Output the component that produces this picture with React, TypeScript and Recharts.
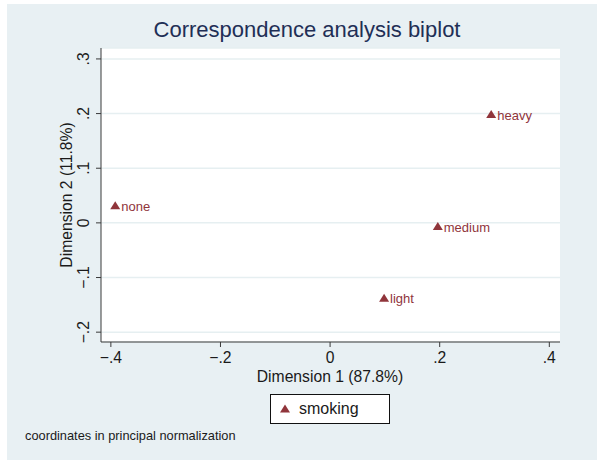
import React from "react";
import {
  CartesianGrid,
  Legend,
  Scatter,
  ScatterChart,
  XAxis,
  YAxis,
} from "recharts";

// smoking categories, principal normalization
const categories = ["none", "light", "medium", "heavy"];
const dim1 = [-0.392, 0.0985, 0.1965, 0.294];
const dim2 = [0.031, -0.138, -0.007, 0.198];

const xTicks = [-0.4, -0.2, 0, 0.2, 0.4];
const xTickLabels = ["\u2212.4", "\u2212.2", "0", ".2", ".4"];
const yTicks = [-0.2, -0.1, 0, 0.1, 0.2, 0.3];
const yTickLabels = ["\u2212.2", "\u2212.1", "0", ".1", ".2", ".3"];

const points = categories.map((name, i) => ({ name, x: dim1[i], y: dim2[i] }));

const FONT = '"Liberation Sans", Arial, Helvetica, sans-serif';
const MAROON = "#90353b";
const AXIS = "#3a3a3a";
const TEXT = "#1a1a1a";

function labelFor(value: number, ticks: number[], labels: string[]) {
  const i = ticks.findIndex((t) => Math.abs(t - value) < 1e-9);
  return i >= 0 ? labels[i] : String(value);
}

function TriangleMarker(props: any) {
  const { cx, cy, payload } = props;
  if (cx == null || cy == null) return null;
  return (
    <g>
      <polygon
        points={`${cx},${cy - 4.6} ${cx - 5},${cy + 3.4} ${cx + 5},${cy + 3.4}`}
        fill={MAROON}
      />
      <text x={cx + 6} y={cy + 5} fontSize={13} fill={MAROON} fontFamily={FONT}>
        {payload.name}
      </text>
    </g>
  );
}

function YTick(props: any) {
  const { x, y, payload } = props;
  return (
    <text
      x={x}
      y={y}
      transform={`rotate(-90 ${x} ${y})`}
      textAnchor="middle"
      fontSize={15.7}
      fill={TEXT}
      fontFamily={FONT}
    >
      {labelFor(payload.value, yTicks, yTickLabels)}
    </text>
  );
}

function LegendBox(props: any) {
  const item = props.payload?.[0];
  return (
    <div
      style={{
        width: 120,
        height: 30,
        border: "1px solid #111",
        background: "#fff",
        display: "flex",
        alignItems: "center",
        fontFamily: FONT,
        fontSize: 16,
        color: TEXT,
        boxSizing: "border-box",
      }}
    >
      <svg width={28} height={20}>
        <polygon points="14,5.4 9,13.4 19,13.4" fill={MAROON} />
      </svg>
      <span>{item?.value ?? "smoking"}</span>
    </div>
  );
}

export default function App() {
  return (
    <div
      style={{
        position: "absolute",
        left: 0,
        top: 0,
        width: 597,
        height: 462,
        background: "#fff",
        overflow: "hidden",
      }}
    >
      <div
        style={{
          position: "absolute",
          left: 7,
          top: 4,
          width: 590,
          height: 456,
          background: "#e8f0f3",
        }}
      />
      <div
        style={{
          position: "absolute",
          left: 0,
          width: 614,
          top: 17,
          textAlign: "center",
          fontFamily: FONT,
          fontSize: 22,
          color: "#1f2f56",
          lineHeight: "26px",
        }}
      >
        Correspondence analysis biplot
      </div>
      <div
        style={{
          position: "absolute",
          left: 25,
          top: 428,
          fontFamily: FONT,
          fontSize: 12.8,
          color: TEXT,
        }}
      >
        coordinates in principal normalization
      </div>
      <div style={{ position: "absolute", left: 0, top: 0 }}>
        <ScatterChart
          width={597}
          height={462}
          margin={{ top: 48, right: 37, bottom: 0, left: 0 }}
        >
          <CartesianGrid
            vertical={false}
            horizontal={true}
            fill="#ffffff"
            stroke="#e6eff1"
            strokeWidth={1.5}
          />
          <XAxis
            type="number"
            dataKey="x"
            domain={[-0.418, 0.4195]}
            ticks={xTicks}
            allowDataOverflow
            height={120}
            tickSize={5}
            tickMargin={5}
            stroke={AXIS}
            tick={{ fontSize: 15.7, fill: TEXT, fontFamily: FONT }}
            tickFormatter={(v: number) => labelFor(v, xTicks, xTickLabels)}
            label={{
              content: (p: any) => {
                const vb = p.viewBox;
                return (
                  <text
                    x={330}
                    y={vb.y + 40}
                    textAnchor="middle"
                    fontSize={15.7}
                    fill={TEXT}
                    fontFamily={FONT}
                  >
                    Dimension 1 (87.8%)
                  </text>
                );
              },
            }}
          />
          <YAxis
            type="number"
            dataKey="y"
            domain={[-0.218, 0.32]}
            ticks={yTicks}
            allowDataOverflow
            width={101}
            tickSize={5}
            tickMargin={7}
            stroke={AXIS}
            tick={<YTick />}
            label={{
              content: (p: any) => {
                const vb = p.viewBox;
                const cx = vb.x + 72;
                const cy = vb.y + vb.height / 2;
                return (
                  <text
                    x={cx}
                    y={cy}
                    transform={`rotate(-90 ${cx} ${cy})`}
                    textAnchor="middle"
                    fontSize={15.7}
                    fill={TEXT}
                    fontFamily={FONT}
                  >
                    Dimension 2 (11.8%)
                  </text>
                );
              },
            }}
          />
          <Legend
            layout="horizontal"
            verticalAlign="middle"
            align="center"
            content={<LegendBox />}
            wrapperStyle={{ left: 270, top: 394, width: 120, height: 30 }}
          />
          <Scatter
            name="smoking"
            data={points}
            fill={MAROON}
            shape={<TriangleMarker />}
            isAnimationActive={false}
          />
        </ScatterChart>
      </div>
    </div>
  );
}
